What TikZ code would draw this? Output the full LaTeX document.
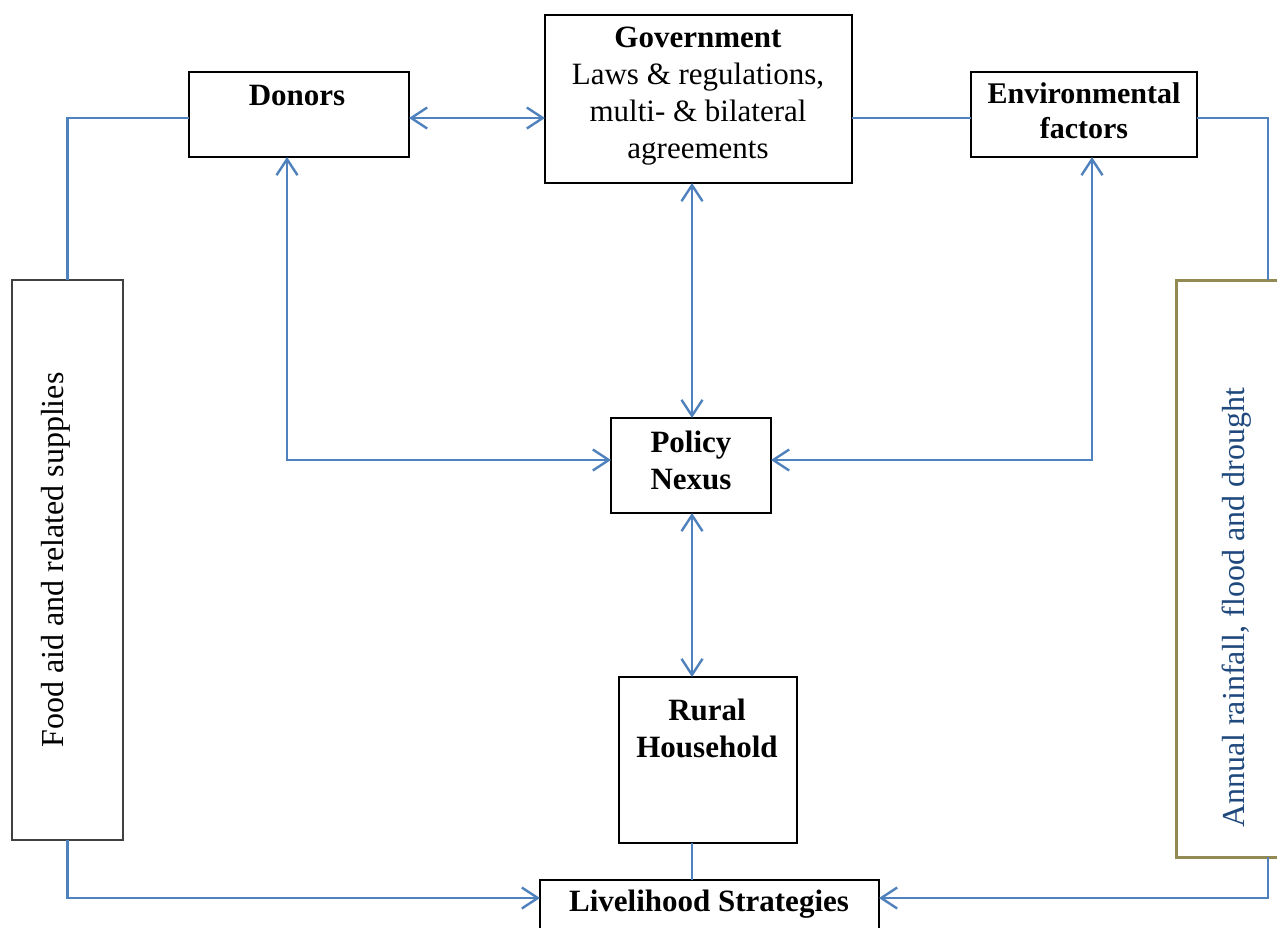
\documentclass[tikz,border=0pt]{standalone}
\usepackage{fontspec}
\setmainfont{Liberation Serif}
\usetikzlibrary{arrows.meta,calc}
\definecolor{lnblue}{HTML}{4F81BD}
\definecolor{boxolive}{HTML}{938953}
\definecolor{txtblue}{HTML}{1F497D}
\newcommand{\bigfont}{\fontsize{31}{37}\selectfont}
\tikzset{
  box/.style={draw=black, line width=2.2pt, fill=white, inner sep=0pt, outer sep=0pt, anchor=north west, align=center, font=\bigfont\bfseries},
  thinbox/.style={draw=black!75, line width=1.4pt, fill=white, inner sep=0pt, outer sep=0pt, anchor=north west},
  olivebox/.style={draw=boxolive, line width=3pt, fill=white, inner sep=0pt, outer sep=0pt, anchor=north west},
  conn/.style={draw=lnblue, line width=2.4pt},
  barb/.tip={Straight Barb[length=16pt,width=21pt]},
  arr/.style={conn, -barb},
  biarr/.style={conn, barb-barb},
  lbl/.style={inner sep=0pt, align=center, font=\bigfont},
  blbl/.style={inner sep=0pt, align=center, font=\bigfont\bfseries},
}
\begin{document}
\begin{tikzpicture}[x=1pt, y=-1pt]
\useasboundingbox (0,0) rectangle (1277,927);
% boxes
\node[box, minimum width=220pt, minimum height=85pt] (donors) at (189,72) {};
\node[blbl] (donorsT) at (297,95) {Donors};
\node[box, minimum width=307pt, minimum height=168pt] (gov) at (545,15) {};
\node[blbl] (govT) at (698,96)
  {Government\\ \mdseries Laws \& regulations,\\ \mdseries multi- \& bilateral\\ \mdseries agreements};
\node[box, minimum width=226pt, minimum height=85pt] (env) at (971,72) {};
\node[blbl, font=\fontsize{30}{35}\selectfont\bfseries] (envT) at (1084,111) {Environmental\\factors};
\node[box, minimum width=160pt, minimum height=95pt] (policy) at (611,418) {};
\node[blbl] (policyT) at (691,460) {Policy\\Nexus};
\node[box, minimum width=178pt, minimum height=166pt] (rural) at (619,677) {};
\node[blbl] (ruralT) at (707,728) {Rural\\Household};
\node[box, minimum width=339pt, minimum height=60pt] (liveli) at (540,880) {};
\node[blbl] (liveliT) at (709,904) {Livelihood Strategies};
\node[thinbox, minimum width=111pt, minimum height=560pt] (food) at (12,280) {};
\node[lbl, rotate=90, font=\fontsize{32}{37}\selectfont] (foodT) at (56,560) {Food aid and related supplies};
\node[olivebox, minimum width=130pt, minimum height=577pt] (rain) at (1176,280) {};
\node[lbl, rotate=90, text=txtblue, font=\fontsize{32}{37}\selectfont] (rainT) at (1237,608) {Annual rainfall, flood and drought};
% helper coordinates
\coordinate (rainTop) at ($(rain.north west)+(92,0)$);
\coordinate (rainBot) at ($(rain.south west)+(92,0)$);
\coordinate (liveW) at ($(liveli.north west)+(0,18)$);
\coordinate (liveE) at ($(liveli.north east)+(0,18)$);
\coordinate (donS) at ($(donors.south west)+(98,0)$);
\coordinate (envS) at ($(env.south)+(8,0)$);
\coordinate (donW) at ($(donors.west)+(0,3.5)$);
\coordinate (donE) at ($(donors.east)+(0,3.5)$);
\coordinate (envW) at ($(env.west)+(0,3.5)$);
\coordinate (envE) at ($(env.east)+(0,3.5)$);
\coordinate (polW) at ($(policy.west)+(0,-5.5)$);
\coordinate (polE) at ($(policy.east)+(0,-5.5)$);
\coordinate (polN) at ($(policy.north)+(1,0)$);
\coordinate (polS) at ($(policy.south)+(1,0)$);
% connectors
\draw[conn] (donW) -| (food.north);
\draw[biarr] (donE) -- (donE -| gov.west);
\draw[conn] (envW -| gov.east) -- (envW);
\draw[conn] (envE) -| (rainTop);
\draw[biarr] (donS) -- (donS |- polW) -- (polW);
\draw[biarr] (envS) -- (envS |- polE) -- (polE);
\draw[biarr] (polN |- gov.south) -- (polN);
\draw[biarr] (polS) -- (polS |- rural.north);
\draw[conn] (polS |- rural.south) -- (polS |- liveli.north);
\draw[arr] (food.south) |- (liveW);
\draw[arr] (rainBot) |- (liveE);
\end{tikzpicture}
\end{document}
